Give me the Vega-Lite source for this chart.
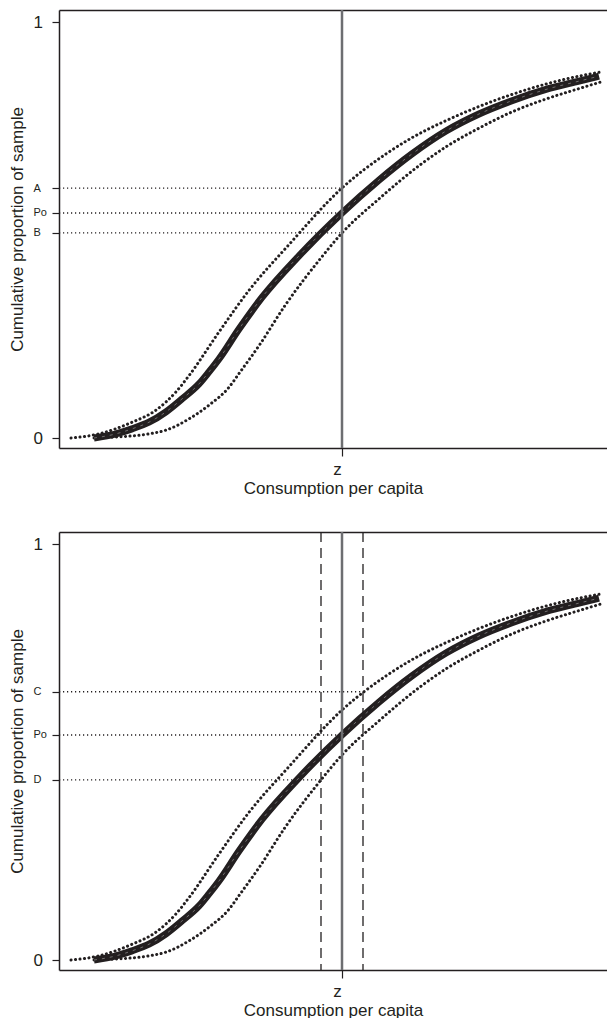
{
  "$schema": "https://vega.github.io/schema/vega-lite/v6.json",
  "background": "white",
  "padding": {"left": 8, "top": 8, "right": -6, "bottom": 0},
  "spacing": 34,
  "config": {
    "font": "Liberation Sans",
    "view": {"stroke": "transparent", "strokeWidth": 0},
    "axis": {
      "grid": false,
      "domainColor": "#231f20",
      "domainWidth": 1.5,
      "tickColor": "#231f20",
      "tickWidth": 1.2,
      "labelColor": "#231f20",
      "titleColor": "#231f20",
      "titleFontWeight": "normal"
    }
  },
  "datasets": {
    "curves": [
      {"series": "mid", "x": 35, "y": 0},
      {"series": "mid", "x": 57, "y": 0.010},
      {"series": "mid", "x": 73, "y": 0.022},
      {"series": "mid", "x": 90, "y": 0.038},
      {"series": "mid", "x": 107, "y": 0.063},
      {"series": "mid", "x": 123, "y": 0.094},
      {"series": "mid", "x": 140, "y": 0.130},
      {"series": "mid", "x": 150, "y": 0.159},
      {"series": "mid", "x": 160, "y": 0.190},
      {"series": "mid", "x": 180, "y": 0.262},
      {"series": "mid", "x": 203, "y": 0.338},
      {"series": "mid", "x": 240, "y": 0.438},
      {"series": "mid", "x": 283, "y": 0.541},
      {"series": "mid", "x": 320, "y": 0.620},
      {"series": "mid", "x": 353, "y": 0.683},
      {"series": "mid", "x": 387, "y": 0.738},
      {"series": "mid", "x": 420, "y": 0.779},
      {"series": "mid", "x": 453, "y": 0.811},
      {"series": "mid", "x": 487, "y": 0.838},
      {"series": "mid", "x": 520, "y": 0.858},
      {"series": "mid", "x": 540, "y": 0.870},
      {"series": "hi", "x": 12, "y": 0},
      {"series": "hi", "x": 40, "y": 0.010},
      {"series": "hi", "x": 73, "y": 0.038},
      {"series": "hi", "x": 97, "y": 0.067},
      {"series": "hi", "x": 117, "y": 0.111},
      {"series": "hi", "x": 130, "y": 0.150},
      {"series": "hi", "x": 160, "y": 0.255},
      {"series": "hi", "x": 190, "y": 0.355},
      {"series": "hi", "x": 230, "y": 0.465},
      {"series": "hi", "x": 283, "y": 0.601},
      {"series": "hi", "x": 327, "y": 0.683},
      {"series": "hi", "x": 353, "y": 0.722},
      {"series": "hi", "x": 387, "y": 0.763},
      {"series": "hi", "x": 420, "y": 0.797},
      {"series": "hi", "x": 453, "y": 0.826},
      {"series": "hi", "x": 487, "y": 0.851},
      {"series": "hi", "x": 520, "y": 0.870},
      {"series": "hi", "x": 542, "y": 0.880},
      {"series": "lo", "x": 35, "y": 0},
      {"series": "lo", "x": 53, "y": 0.002},
      {"series": "lo", "x": 90, "y": 0.010},
      {"series": "lo", "x": 107, "y": 0.019},
      {"series": "lo", "x": 130, "y": 0.046},
      {"series": "lo", "x": 150, "y": 0.079},
      {"series": "lo", "x": 170, "y": 0.122},
      {"series": "lo", "x": 180, "y": 0.155},
      {"series": "lo", "x": 200, "y": 0.222},
      {"series": "lo", "x": 227, "y": 0.322},
      {"series": "lo", "x": 262, "y": 0.433},
      {"series": "lo", "x": 283, "y": 0.493},
      {"series": "lo", "x": 320, "y": 0.575},
      {"series": "lo", "x": 363, "y": 0.660},
      {"series": "lo", "x": 387, "y": 0.700},
      {"series": "lo", "x": 420, "y": 0.745},
      {"series": "lo", "x": 453, "y": 0.784},
      {"series": "lo", "x": 487, "y": 0.815},
      {"series": "lo", "x": 520, "y": 0.840},
      {"series": "lo", "x": 542, "y": 0.856}
    ],
    "refs": [
      {"panel": "top", "label": "A", "y": 0.601, "xstart": 0, "xend": 283},
      {"panel": "top", "label": "Po", "y": 0.541, "xstart": 0, "xend": 283},
      {"panel": "top", "label": "B", "y": 0.493, "xstart": 0, "xend": 283},
      {"panel": "bottom", "label": "C", "y": 0.645, "xstart": 0, "xend": 304},
      {"panel": "bottom", "label": "Po", "y": 0.541, "xstart": 0, "xend": 283},
      {"panel": "bottom", "label": "D", "y": 0.433, "xstart": 0, "xend": 262}
    ],
    "vlines": [
      {"panel": "top", "x": 283, "kind": "z"},
      {"panel": "bottom", "x": 283, "kind": "z"},
      {"panel": "bottom", "x": 262, "kind": "band"},
      {"panel": "bottom", "x": 304, "kind": "band"}
    ]
  },
  "vconcat": [
    {
      "width": 554,
      "height": 438,
      "view": {"stroke": "transparent", "strokeWidth": 0},
      "resolve": {"axis": {"x": "independent"}},
      "layer": [
        {
          "data": {"name": "refs"},
          "transform": [{"filter": "datum.panel == 'top'"}],
          "mark": {"type": "rule", "color": "#231f20", "strokeWidth": 1.3, "strokeDash": [1.2, 2.8]},
          "encoding": {
            "x": {"field": "xstart", "type": "quantitative", "scale": {"domain": [0, 554], "nice": false, "zero": false},
              "axis": {"orient": "top", "labels": false, "ticks": false, "title": null, "domain": true}},
            "x2": {"field": "xend"},
            "y": {"field": "y", "type": "quantitative"}
          }
        },
        {
          "data": {"name": "curves"},
          "transform": [{"filter": "datum.series != 'mid'"}],
          "mark": {"type": "line", "color": "#231f20", "strokeWidth": 3, "strokeDash": [0.1, 4.4], "strokeCap": "round", "interpolate": "monotone"},
          "encoding": {
            "x": {"field": "x", "type": "quantitative", "scale": {"domain": [0, 554], "nice": false, "zero": false},
              "axis": {"values": [283], "labelExpr": "'z'", "tickSize": 8, "labelPadding": 5, "labelFontSize": 17, "labelOffset": -5,
                "title": "Consumption per capita", "titleFontSize": 17, "titlePadding": 3, "titleX": 274}},
            "y": {"field": "y", "type": "quantitative", "scale": {"domain": [-0.024, 1.029], "nice": false, "zero": false},
              "axis": {"values": [0, 0.493, 0.541, 0.601, 1],
                "labelExpr": "datum.value == 1 ? '1' : datum.value == 0 ? '0' : datum.value == 0.601 ? 'A' : datum.value == 0.541 ? 'Po' : 'B'",
                "labelFontSize": {"condition": {"test": "datum.value == 0 || datum.value == 1", "value": 17}, "value": 11},
                "labelAlign": "left", "labelBaseline": "middle", "labelPadding": 19, "tickSize": 7,
                "title": "Cumulative proportion of sample", "titleFontSize": 17, "titlePadding": 7}},
            "detail": {"field": "series"}
          }
        },
        {
          "data": {"name": "curves"},
          "transform": [{"filter": "datum.series == 'mid'"}],
          "mark": {"type": "line", "color": "#231f20", "strokeWidth": 7, "interpolate": "monotone"},
          "encoding": {
            "x": {"field": "x", "type": "quantitative", "axis": null},
            "y": {"field": "y", "type": "quantitative"}
          }
        },
        {
          "data": {"name": "curves"},
          "transform": [{"filter": "datum.series == 'mid'"}],
          "mark": {"type": "line", "color": "white", "strokeWidth": 1, "opacity": 0.35, "strokeDash": [3, 5], "interpolate": "monotone"},
          "encoding": {
            "x": {"field": "x", "type": "quantitative", "axis": null},
            "y": {"field": "y", "type": "quantitative"}
          }
        },
        {
          "data": {"name": "vlines"},
          "transform": [{"filter": "datum.panel == 'top' && datum.kind == 'z'"}],
          "mark": {"type": "rule", "color": "#6d6e71", "strokeWidth": 2.5},
          "encoding": {"x": {"field": "x", "type": "quantitative", "axis": null}}
        }
      ]
    },
    {
      "width": 554,
      "height": 438,
      "view": {"stroke": "transparent", "strokeWidth": 0},
      "resolve": {"axis": {"x": "independent"}},
      "layer": [
        {
          "data": {"name": "refs"},
          "transform": [{"filter": "datum.panel == 'bottom'"}],
          "mark": {"type": "rule", "color": "#231f20", "strokeWidth": 1.3, "strokeDash": [1.2, 2.8]},
          "encoding": {
            "x": {"field": "xstart", "type": "quantitative", "scale": {"domain": [0, 554], "nice": false, "zero": false},
              "axis": {"orient": "top", "labels": false, "ticks": false, "title": null, "domain": true}},
            "x2": {"field": "xend"},
            "y": {"field": "y", "type": "quantitative"}
          }
        },
        {
          "data": {"name": "curves"},
          "transform": [{"filter": "datum.series != 'mid'"}],
          "mark": {"type": "line", "color": "#231f20", "strokeWidth": 3, "strokeDash": [0.1, 4.4], "strokeCap": "round", "interpolate": "monotone"},
          "encoding": {
            "x": {"field": "x", "type": "quantitative", "scale": {"domain": [0, 554], "nice": false, "zero": false},
              "axis": {"values": [283], "labelExpr": "'z'", "tickSize": 8, "labelPadding": 5, "labelFontSize": 17, "labelOffset": -5,
                "title": "Consumption per capita", "titleFontSize": 17, "titlePadding": 3, "titleX": 274}},
            "y": {"field": "y", "type": "quantitative", "scale": {"domain": [-0.024, 1.029], "nice": false, "zero": false},
              "axis": {"values": [0, 0.433, 0.541, 0.645, 1],
                "labelExpr": "datum.value == 1 ? '1' : datum.value == 0 ? '0' : datum.value == 0.645 ? 'C' : datum.value == 0.541 ? 'Po' : 'D'",
                "labelFontSize": {"condition": {"test": "datum.value == 0 || datum.value == 1", "value": 17}, "value": 11},
                "labelAlign": "left", "labelBaseline": "middle", "labelPadding": 19, "tickSize": 7,
                "title": "Cumulative proportion of sample", "titleFontSize": 17, "titlePadding": 7}},
            "detail": {"field": "series"}
          }
        },
        {
          "data": {"name": "curves"},
          "transform": [{"filter": "datum.series == 'mid'"}],
          "mark": {"type": "line", "color": "#231f20", "strokeWidth": 7, "interpolate": "monotone"},
          "encoding": {
            "x": {"field": "x", "type": "quantitative", "axis": null},
            "y": {"field": "y", "type": "quantitative"}
          }
        },
        {
          "data": {"name": "curves"},
          "transform": [{"filter": "datum.series == 'mid'"}],
          "mark": {"type": "line", "color": "white", "strokeWidth": 1, "opacity": 0.35, "strokeDash": [3, 5], "interpolate": "monotone"},
          "encoding": {
            "x": {"field": "x", "type": "quantitative", "axis": null},
            "y": {"field": "y", "type": "quantitative"}
          }
        },
        {
          "data": {"name": "vlines"},
          "transform": [{"filter": "datum.panel == 'bottom' && datum.kind == 'band'"}],
          "mark": {"type": "rule", "color": "#231f20", "strokeWidth": 1.3, "strokeDash": [10, 6]},
          "encoding": {"x": {"field": "x", "type": "quantitative", "axis": null}}
        },
        {
          "data": {"name": "vlines"},
          "transform": [{"filter": "datum.panel == 'bottom' && datum.kind == 'z'"}],
          "mark": {"type": "rule", "color": "#6d6e71", "strokeWidth": 2.5},
          "encoding": {"x": {"field": "x", "type": "quantitative", "axis": null}}
        }
      ]
    }
  ]
}
